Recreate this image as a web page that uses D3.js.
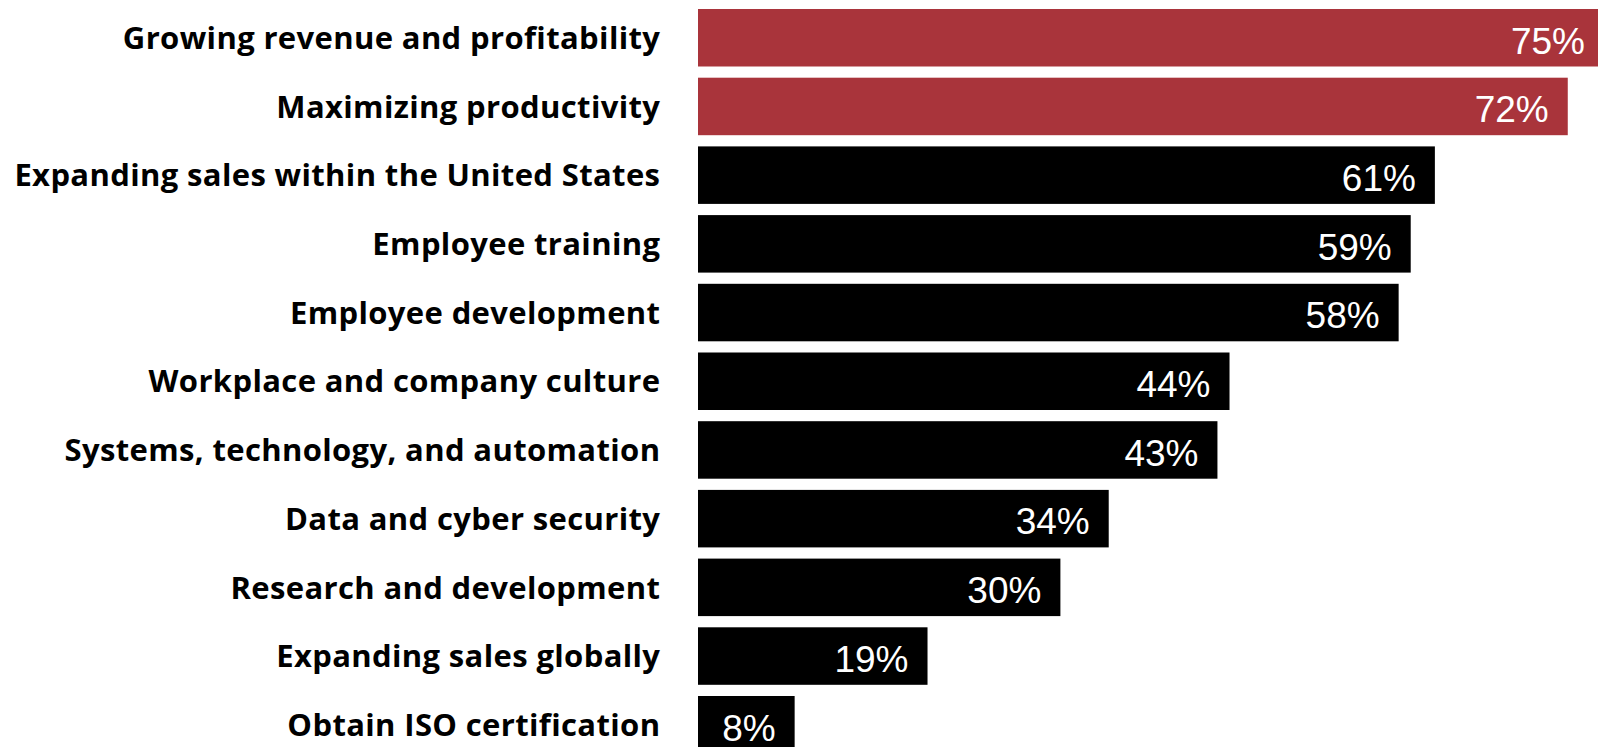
<!DOCTYPE html>
<html>
<head>
<meta charset="utf-8">
<script src="https://cdn.jsdelivr.net/npm/d3@7"></script>
<style>
  html, body { margin: 0; padding: 0; background: #ffffff; overflow: hidden; }
  svg { display: block; }
</style>
</head>
<body>
<svg id="chart" width="1598" height="747"></svg>
<script>
var categories = [
  "Growing revenue and profitability",
  "Maximizing productivity",
  "Expanding sales within the United States",
  "Employee training",
  "Employee development",
  "Workplace and company culture",
  "Systems, technology, and automation",
  "Data and cyber security",
  "Research and development",
  "Expanding sales globally",
  "Obtain ISO certification"
];
var values = [75, 72, 61, 59, 58, 44, 43, 34, 30, 19, 8];
var highlighted = [true, true, false, false, false, false, false, false, false, false, false];

var data = categories.map(function(c, i) {
  return { key: c, value: values[i], hi: highlighted[i] };
});

var svg = d3.select("#chart");

var barLeft = 698;
var pxPerPoint = 12.08;

var x = d3.scaleLinear()
  .domain([0, 75])
  .range([barLeft, barLeft + 75 * pxPerPoint]);

var y = d3.scaleBand()
  .domain(categories)
  .range([3.4, 3.4 + 11 * 68.7])
  .paddingInner(0.163)
  .paddingOuter(0.0815);

var plot = svg.append("g");

plot.selectAll(".bar")
  .data(data)
  .enter()
  .append("rect")
  .attr("class", "bar")
  .attr("x", x(0))
  .attr("y", function(d) { return y(d.key); })
  .attr("width", function(d) { return x(d.value) - x(0); })
  .attr("height", y.bandwidth())
  .attr("fill", function(d) { return d.hi ? "#a9343b" : "#000000"; });

// value labels inside the bars
plot.selectAll(".value")
  .data(data)
  .enter()
  .append("text")
  .attr("class", "value")
  .attr("x", function(d) { return x(d.value) - 19; })
  .attr("y", function(d) { return y(d.key) + y.bandwidth() / 2 + 2.5; })
  .attr("dy", "0.36em")
  .attr("text-anchor", "end")
  .attr("fill", "#ffffff")
  .style("font-family", "'Liberation Sans', Arial, sans-serif")
  .style("font-size", "37px")
  .text(function(d) { return d.value + "%"; });

// category labels
var yAxis = d3.axisLeft(y).tickSize(0).tickPadding(0);

var axisG = svg.append("g")
  .attr("transform", "translate(660,0)")
  .call(yAxis);

axisG.select(".domain").remove();
axisG.selectAll("text")
  .attr("fill", "#000000")
  .attr("dy", "0.36em")
  .style("font-family", "'Open Sans', 'Noto Sans', sans-serif")
  .style("font-weight", "bold")
  .style("font-size", "31px");

// fit longest label to the width it has in the source
var longest = axisG.selectAll("text").filter(function() {
  return this.textContent === "Expanding sales within the United States";
});
var ls = (646 - longest.node().getComputedTextLength()) / categories[2].length;
axisG.selectAll("text")
  .style("letter-spacing", ls + "px")
  .attr("x", ls);
</script>
</body>
</html>
